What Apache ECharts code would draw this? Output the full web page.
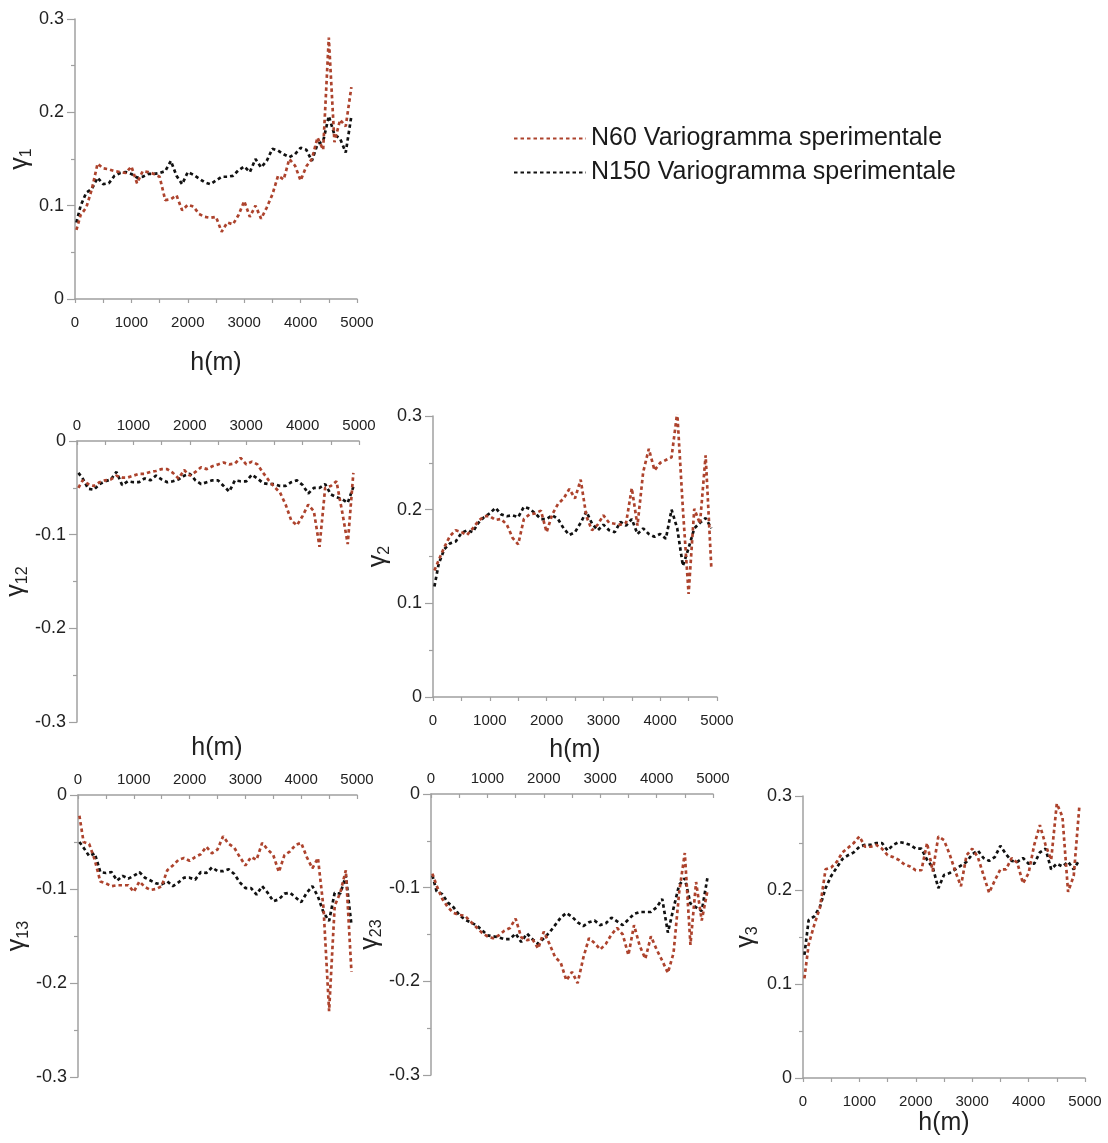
<!DOCTYPE html>
<html>
<head>
<meta charset="utf-8">
<script src="https://cdn.jsdelivr.net/npm/echarts@6/dist/echarts.min.js"></script>
<style>
  html, body { margin: 0; padding: 0; background: #fff; }
  #chart { width: 1108px; height: 1143px; }
</style>
</head>
<body>
<div id="chart"></div>
<script>
// Lag distances h (m) of the experimental variograms
const lags = [25,100,200,300,400,500,600,700,800,900,1000,1100,1200,1300,1400,1500,1600,1700,1800,1900,2000,2100,2200,2300,2400,2500,2600,2700,2800,2900,3000,3100,3200,3300,3400,3500,3600,3700,3800,3900,4000,4100,4200,4300,4400,4500,4600,4700,4800,4900];

// Direct variogram gamma_1
const g1N60  = [0.074,0.090,0.098,0.118,0.145,0.140,0.139,0.137,0.136,0.135, 0.142,0.124,0.137,0.136,0.134,0.131,0.106,0.107,0.111,0.095, 0.101,0.099,0.091,0.088,0.087,0.088,0.072,0.082,0.080,0.090, 0.105,0.088,0.100,0.086,0.098,0.112,0.132,0.128,0.150,0.143, 0.127,0.142,0.150,0.173,0.160,0.280,0.168,0.192,0.185,0.227];
const g1N150 = [0.082,0.100,0.114,0.118,0.130,0.123,0.124,0.132,0.135,0.136, 0.134,0.130,0.131,0.134,0.134,0.135,0.137,0.148,0.132,0.123, 0.136,0.133,0.129,0.125,0.123,0.127,0.131,0.131,0.132,0.138, 0.142,0.136,0.150,0.141,0.148,0.161,0.159,0.155,0.152,0.155, 0.162,0.160,0.148,0.166,0.169,0.196,0.176,0.172,0.157,0.196];

// Cross variogram gamma_12
const g12N60  = [-0.050,-0.042,-0.046,-0.048,-0.044,-0.042,-0.041,-0.037,-0.039,-0.039, -0.037,-0.035,-0.035,-0.033,-0.032,-0.030,-0.030,-0.034,-0.040,-0.031, -0.037,-0.033,-0.028,-0.030,-0.027,-0.025,-0.023,-0.025,-0.024,-0.018, -0.025,-0.022,-0.025,-0.034,-0.042,-0.049,-0.055,-0.068,-0.085,-0.090, -0.080,-0.068,-0.075,-0.113,-0.050,-0.048,-0.043,-0.075,-0.110,-0.034];
const g12N150 = [-0.034,-0.040,-0.051,-0.052,-0.046,-0.043,-0.041,-0.033,-0.047,-0.043, -0.044,-0.044,-0.040,-0.042,-0.037,-0.041,-0.044,-0.043,-0.041,-0.037, -0.035,-0.042,-0.046,-0.044,-0.042,-0.042,-0.048,-0.054,-0.042,-0.043, -0.043,-0.036,-0.040,-0.045,-0.046,-0.046,-0.048,-0.048,-0.044,-0.042, -0.047,-0.056,-0.050,-0.050,-0.046,-0.057,-0.060,-0.062,-0.066,-0.049];

// Direct variogram gamma_2
const g2N60  = [0.135,0.146,0.160,0.172,0.178,0.176,0.173,0.180,0.188,0.193, 0.193,0.189,0.190,0.184,0.170,0.163,0.190,0.195,0.196,0.199, 0.176,0.195,0.206,0.212,0.222,0.212,0.232,0.193,0.178,0.184, 0.194,0.186,0.185,0.184,0.186,0.223,0.183,0.240,0.265,0.242, 0.250,0.253,0.256,0.304,0.200,0.110,0.201,0.185,0.258,0.138];
const g2N150 = [0.118,0.142,0.158,0.164,0.166,0.175,0.178,0.176,0.186,0.192, 0.196,0.202,0.195,0.193,0.194,0.192,0.203,0.201,0.196,0.190, 0.190,0.194,0.190,0.180,0.173,0.176,0.186,0.198,0.185,0.178, 0.184,0.178,0.176,0.187,0.183,0.190,0.174,0.180,0.174,0.171, 0.174,0.169,0.200,0.180,0.140,0.159,0.180,0.186,0.191,0.180];

// Cross variogram gamma_13
const g13N60  = [-0.022,-0.050,-0.052,-0.069,-0.092,-0.094,-0.097,-0.096,-0.096,-0.096, -0.103,-0.092,-0.098,-0.101,-0.100,-0.097,-0.080,-0.075,-0.069,-0.067, -0.070,-0.066,-0.063,-0.055,-0.062,-0.058,-0.044,-0.052,-0.056,-0.066, -0.075,-0.066,-0.069,-0.051,-0.058,-0.064,-0.082,-0.064,-0.060,-0.053, -0.051,-0.066,-0.078,-0.067,-0.120,-0.230,-0.118,-0.104,-0.080,-0.188];
const g13N150 = [-0.050,-0.056,-0.065,-0.062,-0.082,-0.083,-0.082,-0.091,-0.086,-0.089, -0.086,-0.082,-0.088,-0.091,-0.094,-0.095,-0.092,-0.097,-0.093,-0.088, -0.088,-0.090,-0.082,-0.083,-0.077,-0.081,-0.081,-0.079,-0.084,-0.093, -0.099,-0.099,-0.106,-0.097,-0.104,-0.113,-0.111,-0.105,-0.104,-0.109, -0.114,-0.104,-0.097,-0.108,-0.125,-0.134,-0.104,-0.105,-0.086,-0.138];

// Cross variogram gamma_23
const g23N60  = [-0.085,-0.098,-0.112,-0.121,-0.127,-0.129,-0.130,-0.136,-0.142,-0.148, -0.152,-0.154,-0.151,-0.146,-0.143,-0.133,-0.153,-0.156,-0.155,-0.165, -0.147,-0.160,-0.174,-0.180,-0.199,-0.190,-0.202,-0.175,-0.154,-0.159, -0.166,-0.160,-0.150,-0.143,-0.150,-0.172,-0.140,-0.162,-0.176,-0.152, -0.166,-0.178,-0.191,-0.170,-0.105,-0.063,-0.161,-0.094,-0.135,-0.104];
const g23N150 = [-0.087,-0.104,-0.107,-0.116,-0.121,-0.129,-0.134,-0.137,-0.140,-0.145, -0.151,-0.152,-0.153,-0.155,-0.155,-0.149,-0.158,-0.149,-0.155,-0.160, -0.154,-0.148,-0.140,-0.132,-0.127,-0.131,-0.137,-0.141,-0.137,-0.135, -0.140,-0.138,-0.132,-0.136,-0.140,-0.134,-0.128,-0.126,-0.126,-0.126, -0.121,-0.112,-0.148,-0.122,-0.097,-0.090,-0.117,-0.121,-0.125,-0.090];

// Direct variogram gamma_3
const g3N60  = [0.106,0.142,0.163,0.181,0.222,0.224,0.230,0.240,0.245,0.250, 0.257,0.246,0.246,0.248,0.244,0.237,0.235,0.232,0.227,0.225, 0.221,0.221,0.250,0.220,0.257,0.253,0.238,0.220,0.204,0.237, 0.244,0.235,0.216,0.197,0.210,0.222,0.222,0.234,0.229,0.207, 0.218,0.248,0.269,0.248,0.232,0.292,0.278,0.198,0.215,0.289];
const g3N150 = [0.131,0.168,0.172,0.182,0.202,0.215,0.224,0.233,0.237,0.240, 0.246,0.248,0.248,0.250,0.250,0.242,0.248,0.251,0.250,0.248, 0.244,0.244,0.232,0.224,0.202,0.216,0.218,0.222,0.226,0.230, 0.238,0.242,0.234,0.231,0.235,0.247,0.238,0.231,0.230,0.234, 0.228,0.228,0.240,0.244,0.222,0.228,0.225,0.230,0.222,0.232];

const xTicks = { min: 0, max: 5000, step: 1000 };
const seriesNames = ['N60 Variogramma sperimentale', 'N150 Variogramma sperimentale'];
const xTitle = 'h(m)';

const FONT = '"Liberation Sans", Arial, sans-serif';
const RED = '#ad432d';
const BLACK = '#111111';
const AXIS = '#a0a0a0';
const TEXT = '#222222';
const DOTS = [3.5, 3];

// Panel layout (triangular matrix of direct and cross variograms)
const panels = [
  { sub: '1',  n60: g1N60,  n150: g1N150,  yMin: 0,    yMax: 0.3, grid: { left: 75,  top: 19,  width: 282, height: 280 }, xPos: 'bottom', xName: true, xGap: 52, xMargin: 16, yGap: 39 },
  { sub: '12', n60: g12N60, n150: g12N150, yMin: -0.3, yMax: 0,   grid: { left: 77,  top: 441, width: 282, height: 281 }, xPos: 'top',    xName: false, xMargin: 8, yGap: 46 },
  { sub: '2',  n60: g2N60,  n150: g2N150,  yMin: 0,    yMax: 0.3, grid: { left: 433, top: 416, width: 284, height: 281 }, xPos: 'bottom', xName: true, xGap: 41, xMargin: 16, yGap: 39 },
  { sub: '13', n60: g13N60, n150: g13N150, yMin: -0.3, yMax: 0,   grid: { left: 78,  top: 795, width: 279, height: 282 }, xPos: 'top',    xName: false, xMargin: 8, yGap: 44 },
  { sub: '23', n60: g23N60, n150: g23N150, yMin: -0.3, yMax: 0,   grid: { left: 431, top: 794, width: 282, height: 281 }, xPos: 'top',    xName: false, xMargin: 8, yGap: 39 },
  { sub: '3',  n60: g3N60,  n150: g3N150,  yMin: 0,    yMax: 0.3, grid: { left: 803, top: 796, width: 282, height: 282 }, xPos: 'bottom', xName: true, xGap: 33, xMargin: 16, yGap: 42 }
];

const pairs = (ys) => lags.map((h, i) => [h, ys[i]]);

const grids = [], xAxes = [], yAxes = [], series = [];
panels.forEach((p, i) => {
  grids.push(Object.assign({ containLabel: false, outerBoundsMode: 'none' }, p.grid));
  xAxes.push({
    gridIndex: i, type: 'value', position: p.xPos,
    min: xTicks.min, max: xTicks.max, interval: xTicks.step,
    name: p.xName ? xTitle : '', nameLocation: 'middle', nameGap: p.xGap || 0,
    nameTextStyle: { fontFamily: FONT, fontSize: 25, color: TEXT },
    axisLine: { show: true, onZero: false, lineStyle: { color: AXIS, width: 1.5 } },
    axisTick: { show: true, length: 4, inside: p.xPos === 'top', lineStyle: { color: AXIS, width: 1.2 } },
    minorTick: { show: true, splitNumber: 2, length: 4, lineStyle: { color: AXIS, width: 1.2 } },
    splitLine: { show: false },
    axisLabel: { fontFamily: FONT, fontSize: 15, color: TEXT, margin: p.xMargin, formatter: (v) => String(v) }
  });
  yAxes.push({
    gridIndex: i, type: 'value', position: 'left',
    min: p.yMin, max: p.yMax, interval: 0.1,
    name: '{g|γ}{s|' + p.sub + '}', nameLocation: 'middle', nameGap: p.yGap, nameRotate: 90,
    nameTextStyle: {
      color: TEXT,
      rich: {
        g: { fontFamily: FONT, fontSize: 25, lineHeight: 30, verticalAlign: 'middle', color: TEXT },
        s: { fontFamily: FONT, fontSize: 16, lineHeight: 16, verticalAlign: 'bottom', color: TEXT }
      }
    },
    axisLine: { show: true, onZero: false, lineStyle: { color: AXIS, width: 1.5 } },
    axisTick: { show: true, length: 8, lineStyle: { color: AXIS, width: 1.2 } },
    minorTick: { show: true, splitNumber: 2, length: 4, lineStyle: { color: AXIS, width: 1.2 } },
    splitLine: { show: false },
    axisLabel: { fontFamily: FONT, fontSize: 18, color: TEXT, margin: 11 }
  });
  series.push({
    name: seriesNames[1], type: 'line', xAxisIndex: i, yAxisIndex: i,
    data: pairs(p.n150), symbol: 'none', smooth: false,
    lineStyle: { color: BLACK, width: 2.7, type: DOTS }, itemStyle: { color: BLACK }, z: 2
  });
  series.push({
    name: seriesNames[0], type: 'line', xAxisIndex: i, yAxisIndex: i,
    data: pairs(p.n60), symbol: 'none', smooth: false,
    lineStyle: { color: RED, width: 2.7, type: DOTS }, itemStyle: { color: RED }, z: 3
  });
});

const chart = echarts.init(document.getElementById('chart'), null, { renderer: 'canvas' });
chart.setOption({
  animation: false,
  backgroundColor: '#ffffff',
  grid: grids,
  xAxis: xAxes,
  yAxis: yAxes,
  series: series,
  legend: {
    data: seriesNames,
    orient: 'vertical',
    left: 513, top: 125, padding: 0,
    itemWidth: 72, itemHeight: 12, itemGap: 7,
    itemStyle: { opacity: 0 },
    textStyle: { fontFamily: FONT, fontSize: 25, color: '#1a1a1a', lineHeight: 27 },
    selectedMode: false
  },
  graphic: [{
    type: 'text',
    style: {
      x: 217, y: 748, text: xTitle,
      font: '25px "Liberation Sans", Arial, sans-serif',
      fill: TEXT, align: 'center', verticalAlign: 'middle'
    }
  }]
});
</script>
</body>
</html>
